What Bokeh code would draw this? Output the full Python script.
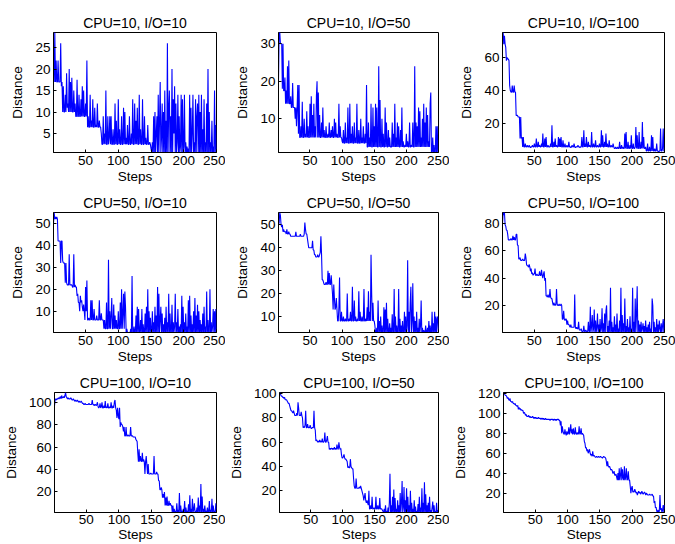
from bokeh.plotting import figure
from bokeh.layouts import row, column
from bokeh.models import Range1d, FixedTicker
from bokeh.embed import file_html
from bokeh.resources import INLINE

x_label = "Steps"
y_label = "Distance"
x_ticks = [50, 100, 150, 200, 250]

titles = [
    ["CPU=10, I/O=10", "CPU=10, I/O=50", "CPU=10, I/O=100"],
    ["CPU=50, I/O=10", "CPU=50, I/O=50", "CPU=50, I/O=100"],
    ["CPU=100, I/O=10", "CPU=100, I/O=50", "CPU=100, I/O=100"],
]

y_ticks = [
    [[5, 10, 15, 20, 25], [10, 20, 30], [20, 40, 60]],
    [[10, 20, 30, 40, 50], [10, 20, 30, 40, 50], [20, 40, 60, 80]],
    [[20, 40, 60, 80, 100], [20, 40, 60, 80, 100], [20, 40, 60, 80, 100, 120]],
]

cpu10_io10 = [
    24, 17, 28.5, 17, 22, 17, 17, 22, 17, 17, 17, 26, 16, 17, 10, 16, 10, 10, 14, 10, 19, 11, 12, 10, 20,
    10, 17, 10, 18, 10, 10, 15, 10, 12, 9, 9, 17.5, 9, 9, 14, 9, 9, 13, 9, 16, 9, 15, 9, 9, 12,
    9, 22, 6.5, 9, 6.5, 6.5, 14, 6.5, 8, 6.5, 13, 6.5, 6.5, 11, 6.5, 7, 6.5, 12, 6.5, 6.5, 8, 6.5, 6.5, 5, 2.5,
    2.5, 9, 2.5, 5, 2.5, 15, 2.5, 2.5, 9, 2.5, 4, 9, 2.5, 9, 2.5, 2.5, 6, 2.5, 2.5, 12, 2.5, 8, 2.5, 2.5, 13,
    2.5, 6, 2.5, 2.5, 9, 2.5, 2.5, 11, 2.5, 10, 2.5, 4, 2.5, 7, 2.5, 2.5, 9, 2.5, 2.5, 5, 2.5, 13, 2.5, 2.5, 12,
    2.5, 8, 2.5, 11, 2.5, 2.5, 14, 2.5, 6, 2.5, 2.5, 13, 2.5, 2.5, 9, 2.5, 4, 2.5, 2.5, 7, 2.5, 2.5, 3, 2.5, 1.5,
    0.6, 3, 0.6, 9, 0.6, 10, 0.6, 5, 9, 0.6, 14, 0.6, 8, 17, 0.6, 4, 12, 0.6, 10, 0.6, 15, 0.6, 8, 0.6, 26,
    0.6, 11, 15, 0.6, 9, 0.6, 20, 0.6, 13, 5, 16, 0.6, 12, 0.6, 3, 14, 0.6, 9, 0.6, 2, 14, 0.6, 13, 0.6, 2,
    14, 0.6, 3, 0.6, 2, 0.6, 1.5, 0.6, 14, 0.6, 11, 0.6, 5, 14, 0.6, 3, 0.6, 13, 0.6, 9, 12, 0.6, 14, 0.6, 10,
    0.6, 14, 0.6, 6, 0.6, 13, 0.6, 3, 0.6, 12, 0.6, 20, 0.6, 10, 0.6, 3, 0.6, 8, 0.6, 2, 0.6, 15, 0.6, 7, 0.6,
]

cpu10_io50 = [
    20, 33, 33, 30, 30, 30, 18, 30, 17.5, 17.5, 21, 14, 17.5, 14, 24, 14, 25.5, 14, 14, 16, 13, 13, 19.5, 13, 13,
    13, 10, 13, 8, 13, 19, 6, 19, 5, 5, 8, 5, 14.5, 5, 5, 10, 5, 6, 5, 12, 5, 8, 5, 5, 14,
    5, 16, 5, 11, 5, 14, 5, 8, 5, 16, 20, 5, 17, 5, 11, 5, 5, 9, 5, 13, 5, 7, 5, 5, 8,
    5, 5, 6, 5, 9, 5, 5, 7, 5, 8, 5, 5, 10, 5, 9, 5, 6, 5, 5, 14, 5, 8, 5, 5, 4,
    3.5, 7, 3.5, 3.5, 9, 3.5, 5, 3.5, 13, 3.5, 3.5, 14, 3.5, 6, 3.5, 8, 3.5, 3.5, 9, 3.5, 5, 3.5, 14, 3.5, 3.5,
    7, 3.5, 3.5, 10, 3.5, 5, 3.5, 8, 3.5, 3.5, 6, 3.5, 19, 2.5, 2.5, 9, 2.5, 5, 2.5, 14, 2.5, 2.5, 13, 2.5, 8,
    2.5, 14, 2.5, 13, 2.5, 2.5, 24, 2.5, 15, 2.5, 2.5, 10, 2.5, 6, 2.5, 2.5, 13, 2.5, 9, 2.5, 2.5, 7, 2.5, 5, 2.5,
    2.5, 2.5, 9, 2.5, 6, 2.5, 14, 2.5, 5, 2.5, 9, 2.5, 8, 2.5, 2.5, 7, 2.5, 13, 2.5, 4, 2.5, 2.5, 3, 2.5, 6,
    2.5, 4, 2.5, 2.5, 9, 2.5, 2.5, 3, 2.5, 9, 2.5, 2.5, 24, 2.5, 9, 2.5, 8, 2.5, 13, 2.5, 12, 2.5, 5, 2.5, 10,
    2.5, 14, 2.5, 9, 2.5, 13, 2.5, 11, 2.5, 4, 2.5, 14, 17, 1, 1, 5, 1, 3, 1, 1, 8, 1, 8, 1, 1,
]

cpu10_io100 = [
    73, 75, 68, 73, 68, 66, 58, 60, 59, 59, 58, 43, 40, 39, 39, 43, 39, 39, 43, 39, 39, 25, 25, 25, 24,
    24, 24, 11, 24, 11, 12, 6, 12, 6, 6, 8, 6, 6, 7, 6, 6, 7, 6, 5.5, 6, 6, 7, 6, 6, 8,
    6, 6, 11, 6, 6, 9, 6, 7, 6, 6, 8, 6, 14, 6, 6, 11, 6, 12, 6, 6, 7, 6, 6, 6, 8,
    6, 19, 6, 6, 9, 6, 11, 6, 7, 6, 6, 12, 6, 11, 6, 12, 6, 6, 10, 6, 6, 8, 6, 6, 7,
    6, 6, 9, 6, 6, 5.5, 6, 7, 6, 6, 8, 6, 5.5, 6, 6, 6, 7, 6, 6, 5.5, 6, 6, 12, 6, 6,
    16, 6, 8, 6, 12, 6, 6, 9, 6, 7, 6, 6, 15, 6, 6, 8, 6, 6, 10, 6, 6, 7, 6, 6, 8,
    6, 6, 16, 6, 13, 6, 6, 9, 6, 14, 6, 8, 6, 6, 10, 6, 6, 7, 6, 6, 8, 6, 5, 5, 6,
    5, 5, 6, 5, 5, 9, 5, 5, 7, 5, 6, 5, 5, 14, 5, 15, 5, 5, 9, 5, 5, 7, 5, 13, 5,
    5, 8, 5, 5, 6, 18, 5, 13, 5, 5, 15, 5, 5, 9, 5, 21, 5, 12, 5, 5, 6, 3.5, 3.5, 8, 3.5,
    3.5, 6, 3.5, 3.5, 13, 3.5, 12, 3.5, 3.5, 5, 3.5, 3.5, 8, 3.5, 3.5, 2.6, 3.5, 3.5, 17, 3.5, 3.5, 5, 17, 3.5, 3.5,
]

cpu50_io10 = [
    50, 55, 52, 53, 52, 53, 52, 42, 42, 42, 42, 32, 42, 42, 33, 32, 32, 32, 23, 32, 23, 22, 22, 22, 36,
    22, 22, 22, 22, 21, 21, 36, 21, 22, 21, 21, 17, 18, 14, 14, 10, 17, 14, 15, 12, 10, 13, 10, 6, 21,
    10, 24, 6, 6, 7, 6, 6, 15, 6, 15, 6, 6, 11, 6, 6, 6, 8, 6, 6, 6, 15, 6, 6, 9, 6,
    6, 6, 2, 6, 2, 2, 14, 2, 2, 33.5, 2, 10, 2, 8, 16, 2, 2, 13, 2, 8, 2, 6, 2, 2, 10,
    2, 2, 14, 2, 20, 2, 9, 18, 2, 19, 12, 0.3, 2, 0.3, 0.3, 0.3, 0.3, 0.3, 2, 0.3, 26, 0.3, 0.3, 3, 0.3,
    0.3, 8, 0.3, 12, 0.3, 11, 0.3, 0.3, 6, 0.3, 11, 0.3, 4, 0.3, 0.3, 9, 0.3, 12, 0.3, 20, 0.3, 10, 0.3, 7, 0.3,
    0.3, 10, 0.3, 5, 0.3, 12, 0.3, 8, 0.3, 21, 0.3, 18, 0.3, 6, 12, 0.3, 9, 0.3, 4, 0.3, 7, 0.3, 12, 0.3, 5,
    0.3, 18, 0.3, 9, 0.3, 0.3, 13, 0.3, 5, 0.3, 3, 18, 0.3, 5, 0.3, 11, 0.3, 3, 0.3, 4, 0.3, 17, 0.3, 12, 0.3,
    5, 0.3, 9, 0.3, 3, 0.3, 15, 0.3, 17, 0.3, 8, 0.3, 4, 0.3, 10, 0.3, 16, 0.3, 8, 0.3, 13, 0.3, 10, 0.3, 6,
    0.3, 4, 0.3, 9, 0.3, 12, 0.3, 3, 0.3, 19, 0.3, 6, 0.3, 0.3, 20, 0.3, 5, 0.3, 3, 11, 0.3, 10, 0.3, 11, 0.3,
]

cpu50_io50 = [
    50, 51, 55.4, 54, 50, 49, 50, 47, 48, 47, 47, 47, 46, 48, 46, 46, 47, 46, 46, 45, 45, 45, 45, 45, 45,
    45, 45, 47, 45, 45, 45, 45, 45, 45, 46, 45, 45, 45, 45, 45, 46, 51, 48, 46, 46, 44, 42, 40, 40, 40,
    40, 40, 40, 43, 39, 39, 37, 37, 36, 36, 36, 37, 36, 36, 37, 38, 45, 37, 26, 26, 25, 24, 24, 24, 25,
    24, 24, 30, 24, 29, 24, 24, 28, 24, 20, 13, 24, 18, 13, 14, 18, 13, 8, 8, 14, 27, 8, 8, 12, 8,
    8, 10, 8, 8, 9, 8, 8, 20, 8, 8, 9, 8, 12, 8, 8, 23, 8, 8, 17, 8, 10, 8, 8, 9, 8,
    21, 8, 12, 8, 8, 10, 8, 8, 22, 8, 8, 9, 8, 14, 8, 21, 8, 12, 8, 37, 20, 8, 16, 8, 8,
    6, 3, 3, 5, 3, 17, 3, 8, 3, 10, 3, 6, 3, 3, 14, 3, 13, 3, 16, 3, 9, 3, 3, 7, 3,
    5, 3, 11, 3, 3, 22, 3, 10, 3, 6, 3, 3, 22, 3, 9, 3, 6, 3, 8, 3, 3, 12, 3, 10, 3,
    6, 34.5, 3, 12, 3, 16, 23, 3, 8, 24.5, 3, 10, 3, 8, 3, 12, 3, 5, 3, 9, 3, 6, 17, 3, 5,
    3, 4, 3, 3, 6, 3, 3, 5, 3, 8, 3, 6, 3, 3, 12, 3, 7, 3, 12, 3, 10, 3, 9, 10, 3,
]

cpu50_io100 = [
    80, 88, 86, 88, 79, 78, 75, 75, 72, 68, 68, 68, 68, 69, 68, 68, 71, 68, 70, 68, 68, 72, 72, 64, 64,
    54, 54, 55, 53, 53, 53, 54, 53, 53, 53, 58, 55, 50, 49, 49, 48, 50, 48, 45, 47, 43, 44, 42, 43, 43,
    47, 42, 42, 43, 42, 42, 42, 45, 42, 42, 46, 42, 40, 43, 45, 38, 40, 27, 27, 26, 28, 26, 26, 32, 26,
    25, 25, 22, 20, 22, 20, 21, 20, 32, 21, 20, 20, 21, 20, 20, 21, 20, 10, 10, 16, 10, 9, 10, 10, 6,
    9, 6, 6, 5, 4, 6, 4, 4, 4, 4, 4, 28, 4, 3, 4, 3, 3, 8, 2, 2, 2, 3, 1, 1, 1,
    5, 1, 1, 2, 1, 1, 1, 8, 1, 1, 19, 0.5, 5, 13, 0.5, 3, 17, 0.5, 9, 0.5, 4, 14, 0.5, 6, 0.5,
    10, 0.5, 3, 18, 0.5, 7, 0.5, 14, 0.5, 16, 20, 0.5, 5, 0.5, 9, 0.5, 33, 0.5, 8, 0.5, 4, 0.5, 12, 0.5, 6,
    0.5, 14, 0.5, 3, 0.5, 9, 0.5, 33, 0.5, 13, 0.5, 7, 0.5, 25, 0.5, 5, 0.5, 10, 0.5, 4, 0.5, 12, 0.5, 3, 0.2,
    33, 0.5, 8, 0.5, 25, 0.5, 14, 34, 0.5, 9, 0.5, 6, 0.5, 8, 0.5, 3, 7, 0.5, 5, 0.5, 9, 0.5, 4, 0.5, 6,
    0.5, 8, 0.5, 3, 0.5, 25, 20, 0.5, 8, 0.5, 4, 0.5, 10, 0.5, 6, 0.5, 9, 3, 0.5, 7, 0.5, 5, 10, 0.5, 9,
]

cpu100_io10 = [
    97, 102, 103, 102, 103, 103, 104, 103, 104, 105, 103, 106, 104, 104, 105, 104, 106, 108.7, 105, 104, 103, 104, 103, 103, 103,
    104, 103, 102, 102, 103, 102, 101, 102, 101, 101, 102, 101, 100, 101, 100, 100, 101, 100, 99, 99, 98, 98, 99, 98, 98,
    98, 98, 98, 99, 98, 98, 98, 98, 102, 98, 98, 97, 98, 98, 97, 98, 100, 96, 95, 96, 99, 95, 96, 100, 95,
    95, 97, 95, 101, 95, 96, 95, 99, 95, 95, 96, 95, 100, 95, 95, 97, 95, 100, 102, 95, 93, 86, 95, 88, 85,
    95, 78, 82, 80, 80, 78, 74, 78, 70, 70, 78, 70, 70, 71, 70, 70, 70, 78, 70, 70, 70, 69, 69, 69, 69,
    67, 66, 65, 55, 47, 58, 47, 52, 48, 47, 55, 47, 49, 47, 36, 47, 52, 44, 36, 45, 36, 36, 36, 37, 36,
    36, 36, 36, 52, 36, 36, 36, 38, 36, 36, 30, 30, 22, 22, 24, 22, 15, 18, 15, 20, 8, 15, 8, 16, 8,
    8, 12, 8, 10, 8, 8, 2, 8, 2, 5, 2, 3, 1.7, 10, 2, 4, 2, 19, 2, 8, 2, 3, 2, 5, 2,
    12, 2, 6, 2, 3, 2, 9, 2, 17, 2, 5, 2, 14, 2, 4, 10, 2, 3, 2, 6, 2, 15, 2, 8, 2,
    27, 2, 16, 2, 5, 2, 8, 2, 3, 2, 6, 2, 2, 12, 2, 4, 2, 14, 2, 8, 2, 3, 2, 10, 2,
]

cpu100_io50 = [
    100, 101, 99, 98, 98, 97, 97, 96, 97, 95, 95, 95, 94, 93, 92, 92, 90, 88, 86, 86, 85, 84, 86, 84, 82,
    82, 82, 84, 82, 93, 88, 82, 82, 82, 85, 82, 80, 72, 73, 72, 74, 86, 72, 72, 75, 72, 72, 72, 74, 72,
    71, 72, 72, 72, 86, 72, 70, 61, 62, 61, 60, 61, 60, 62, 60, 61, 60, 63, 60, 60, 61, 68, 60, 60, 62,
    65, 60, 60, 54, 55, 54, 55, 55, 54, 55, 54, 56, 54, 55, 54, 58, 55, 54, 60, 56, 54, 55, 50, 47, 47,
    48, 50, 47, 46, 46, 45, 44, 39, 40, 39, 39, 46, 40, 39, 38, 38, 30, 24, 22, 22, 30, 22, 22, 22, 22,
    23, 22, 24, 22, 20, 18, 16, 12, 15, 18, 12, 10, 12, 10, 8, 20, 5, 5, 8, 5, 15, 5, 5, 6, 5,
    5, 15, 5, 5, 8, 5, 5, 14, 5, 5, 5, 4, 3, 2, 5, 2, 8, 2, 3, 2, 6, 2, 10, 34, 2,
    8, 2, 15, 2, 21, 2, 14, 2, 5, 2, 12, 2, 8, 2, 18, 2, 10, 28, 2, 6, 23, 2, 12, 2, 22,
    2, 15, 2, 8, 2, 20, 2, 10, 2, 5, 2, 12, 2, 7, 2, 3, 2, 9, 2, 15, 2, 6, 2, 22, 2,
    10, 2, 27, 2, 17, 2, 8, 2, 10, 2, 15, 2, 4, 2, 6, 11, 2, 8, 2, 3, 2, 10, 2, 4, 2,
]

cpu100_io100 = [
    121, 120, 119, 118, 118, 117, 115, 116, 114, 113, 115, 112, 112, 111, 112, 110, 110, 109, 110, 108, 108, 107, 108, 104, 106,
    104, 105, 103, 104, 103, 103, 100, 101, 100, 98, 99, 97, 97, 97, 98, 96, 97, 96, 96, 96, 97, 96, 95, 96, 95,
    96, 95, 95, 95, 96, 95, 95, 95, 94, 95, 95, 94, 95, 94, 94, 95, 94, 94, 94, 94, 94, 94, 93, 94, 94,
    94, 94, 93, 94, 94, 93, 94, 93, 94, 94, 94, 93, 93, 88, 92, 80, 87, 82, 80, 79, 84, 80, 78, 82, 79,
    80, 86, 79, 83, 89, 80, 84, 79, 85, 80, 79, 86, 80, 79, 81, 79, 80, 87, 79, 80, 85, 79, 80, 79, 78,
    72, 70, 65, 66, 62, 64, 60, 62, 64, 60, 58, 59, 57, 62, 57, 58, 57, 56, 56, 57, 56, 56, 57, 56, 56,
    57, 56, 56, 55, 56, 57, 56, 56, 55, 52, 47, 52, 47, 46, 47, 45, 43, 44, 43, 40, 40, 42, 38, 38, 39,
    36, 33, 40, 33, 45, 33, 38, 46, 33, 44, 35, 33, 47, 33, 36, 45, 33, 34, 42, 33, 33, 27, 20, 25, 27,
    21, 22, 21, 24, 22, 20, 21, 18, 20, 22, 20, 21, 19, 20, 22, 20, 19, 20, 21, 20, 18, 20, 19, 18, 18,
    18, 19, 18, 18, 18, 19, 17, 17, 10, 12, 5, 6, 2, 0.5, 3, 0.5, 2, 18, 3, 5, 0.5, 3, 8, 1, 8,
]

series = [
    [cpu10_io10, cpu10_io50, cpu10_io100],
    [cpu50_io10, cpu50_io50, cpu50_io100],
    [cpu100_io10, cpu100_io50, cpu100_io100],
]

FONT = "Liberation Sans"
col_w = [225, 224, 226]
col_l = [53, 53, 53]
col_r = [9, 11, 11]
row_h = [190, 180, 174]
row_t = [32, 22, 22]
row_b = [38, 38, 32]


def make_panel(y, title, yticks, r, c):
    x = list(range(1, len(y) + 1))
    p = figure(width=col_w[c], height=row_h[r], output_backend="svg",
               toolbar_location=None, tools="",
               x_range=Range1d(1, 250), y_range=Range1d(min(y), max(y)),
               min_border_left=col_l[c], min_border_right=col_r[c],
               min_border_top=row_t[r], min_border_bottom=row_b[r])
    p.line(x, y, line_color="#0000ff", line_width=1.1)
    p.title.text = title
    p.title.align = "center"
    p.title.text_font = FONT
    p.title.text_font_size = "14px"
    p.title.text_font_style = "normal"
    p.title.text_color = "black"
    p.title.standoff = 4
    p.xaxis.ticker = FixedTicker(ticks=x_ticks)
    p.yaxis.ticker = FixedTicker(ticks=yticks)
    p.xaxis.axis_label = x_label
    p.yaxis.axis_label = y_label
    for ax in (p.xaxis[0], p.yaxis[0]):
        ax.axis_label_text_font = FONT
        ax.axis_label_text_font_size = "13.5px"
        ax.axis_label_text_font_style = "normal"
        ax.axis_label_text_color = "black"
        ax.major_label_text_font = FONT
        ax.major_label_text_font_size = "13.5px"
        ax.major_label_text_color = "black"
        ax.major_tick_in = 3
        ax.major_tick_out = 0
        ax.minor_tick_in = 0
        ax.minor_tick_out = 0
        ax.axis_line_color = "black"
        ax.major_tick_line_color = "black"
        ax.major_label_standoff = 3
    p.xaxis.axis_label_standoff = 1
    if r == 2:
        p.xaxis.major_label_standoff = 2
        p.xaxis.axis_label_standoff = 0
    p.yaxis.axis_label_standoff = 7
    p.xgrid.visible = False
    p.ygrid.visible = False
    p.outline_line_color = "black"
    p.outline_line_width = 1
    p.outline_line_alpha = 1
    p.background_fill_color = "white"
    p.border_fill_color = "white"
    return p


rows = []
for r in range(3):
    figs = [make_panel(series[r][c], titles[r][c], y_ticks[r][c], r, c) for c in range(3)]
    rows.append(row(*figs, spacing=0))
layout = column(*rows, spacing=0)

open("out.html", "w").write(file_html(layout, INLINE))
